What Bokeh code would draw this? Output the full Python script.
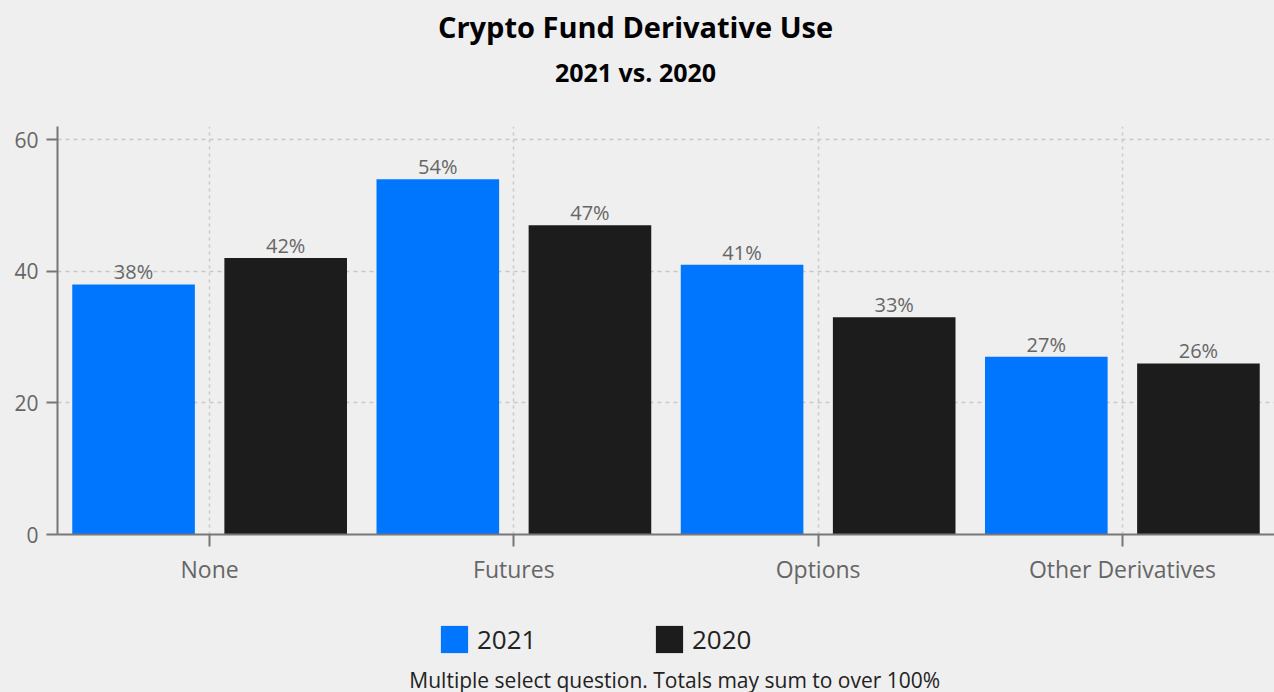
from bokeh.plotting import figure
from bokeh.layouts import column
from bokeh.models import (ColumnDataSource, FactorRange, Range1d, FixedTicker, Legend,
                          LegendItem, Label)
from bokeh.transform import dodge
from bokeh.embed import file_html
from bokeh.resources import INLINE

categories = ["None", "Futures", "Options", "Other Derivatives"]
values_2021 = [38, 54, 41, 27]
values_2020 = [42, 47, 33, 26]
series_names = ["2021", "2020"]
y_ticks = [0, 20, 40, 60]
title_text = "Crypto Fund Derivative Use"
subtitle_text = "2021 vs. 2020"
note_text = "Multiple select question. Totals may  sum to over 100%"

BG = "#efefef"
BLUE = "#0076ff"
DARK = "#1c1c1c"
FONT = "Open Sans"
W = 1274
LEFT = 57
H_HEAD = 110
H_MAIN = 490
H_FOOT = 92


def blank(height):
    fig = figure(x_range=Range1d(LEFT, W), y_range=Range1d(0, height), width=W,
                 height=height, output_backend="svg", toolbar_location=None,
                 x_axis_type=None, y_axis_type=None, background_fill_color=BG,
                 border_fill_color=BG, outline_line_color=None, min_border=0,
                 min_border_left=LEFT)
    fig.xgrid.visible = False
    fig.ygrid.visible = False
    return fig


# header: title and subtitle
h = blank(H_HEAD)
h.add_layout(Label(text=title_text, x=635, y=H_HEAD - 26, text_align="center",
                   text_baseline="alphabetic", text_font=FONT, text_font_size="29px",
                   text_font_style="bold", text_color="#000000"))
h.add_layout(Label(text=subtitle_text, x=635, y=H_HEAD - 71, text_align="center",
                   text_baseline="alphabetic", text_font=FONT, text_font_size="25px",
                   text_font_style="bold", text_color="#000000"))

src = ColumnDataSource(dict(
    cat=categories,
    v21=values_2021,
    v20=values_2020,
    l21=[f"{v}%" for v in values_2021],
    l20=[f"{v}%" for v in values_2020],
))

p = figure(x_range=FactorRange(factors=categories), y_range=Range1d(0, 62),
           width=W, height=H_MAIN, title=None, output_backend="svg",
           toolbar_location=None, background_fill_color=BG,
           border_fill_color=BG, outline_line_color=None,
           min_border_left=LEFT, min_border_right=0, min_border_top=16,
           min_border_bottom=66)

p.vbar(x=dodge("cat", -0.25, range=p.x_range), top="v21", width=0.403,
       source=src, color=BLUE, line_color=None)
p.vbar(x=dodge("cat", 0.25, range=p.x_range), top="v20", width=0.403,
       source=src, color=DARK, line_color=None)

for col, lab, off in (("v21", "l21", -0.25), ("v20", "l20", 0.25)):
    p.text(x=dodge("cat", off, range=p.x_range), y=col, text=lab, source=src,
           text_align="center", text_baseline="bottom", y_offset=1,
           text_font_size="20px", text_color="#666666",
           text_font={"value": FONT})

# axes
p.yaxis.ticker = FixedTicker(ticks=y_ticks)
for ax in (p.xaxis[0], p.yaxis[0]):
    ax.axis_line_color = "#777777"
    ax.axis_line_width = 2
    ax.major_tick_line_color = "#777777"
    ax.major_tick_line_width = 2
    ax.major_tick_in = 0
    ax.minor_tick_line_color = None
    ax.major_label_text_font = FONT
    ax.major_label_text_color = "#666666"
p.yaxis.major_tick_out = 11
p.yaxis.major_label_standoff = 8
p.yaxis.major_label_text_font_size = "21px"
p.xaxis.major_tick_out = 12
p.xaxis.major_label_standoff = 6
p.xaxis.major_label_text_font_size = "23px"

p.ygrid.grid_line_color = "#c8c8c8"
p.ygrid.grid_line_dash = "4 4"
p.ygrid.grid_line_width = 1.5
p.xgrid.grid_line_color = "#c8c8c8"
p.xgrid.grid_line_dash = "3 4"
p.xgrid.grid_line_width = 1.5

# footer: legend and note
f = blank(H_FOOT)
k21 = f.vbar(x=[LEFT], top=[0], width=1, color=BLUE, line_color=None, border_radius=4)
k20 = f.vbar(x=[LEFT], top=[0], width=1, color=DARK, line_color=None, border_radius=4)

legend = Legend(items=[LegendItem(label=series_names[0], renderers=[k21]),
                       LegendItem(label=series_names[1], renderers=[k20])],
                orientation="horizontal", location=(437 - LEFT, 35),
                glyph_width=34, glyph_height=34, label_height=34,
                label_width=150, spacing=25,
                label_standoff=6, padding=0, margin=0,
                label_text_font=FONT, label_text_font_size="26px",
                label_text_color="#222222",
                background_fill_alpha=0, border_line_color=None)
f.add_layout(legend, "center")

f.add_layout(Label(text=note_text, x=677, y=13, text_align="center",
                   text_baseline="alphabetic", text_font=FONT,
                   text_font_size="21px", text_color="#222222"))

layout = column(h, p, f, spacing=0, styles={"background-color": BG})
open("out.html", "w").write(file_html(layout, INLINE))
